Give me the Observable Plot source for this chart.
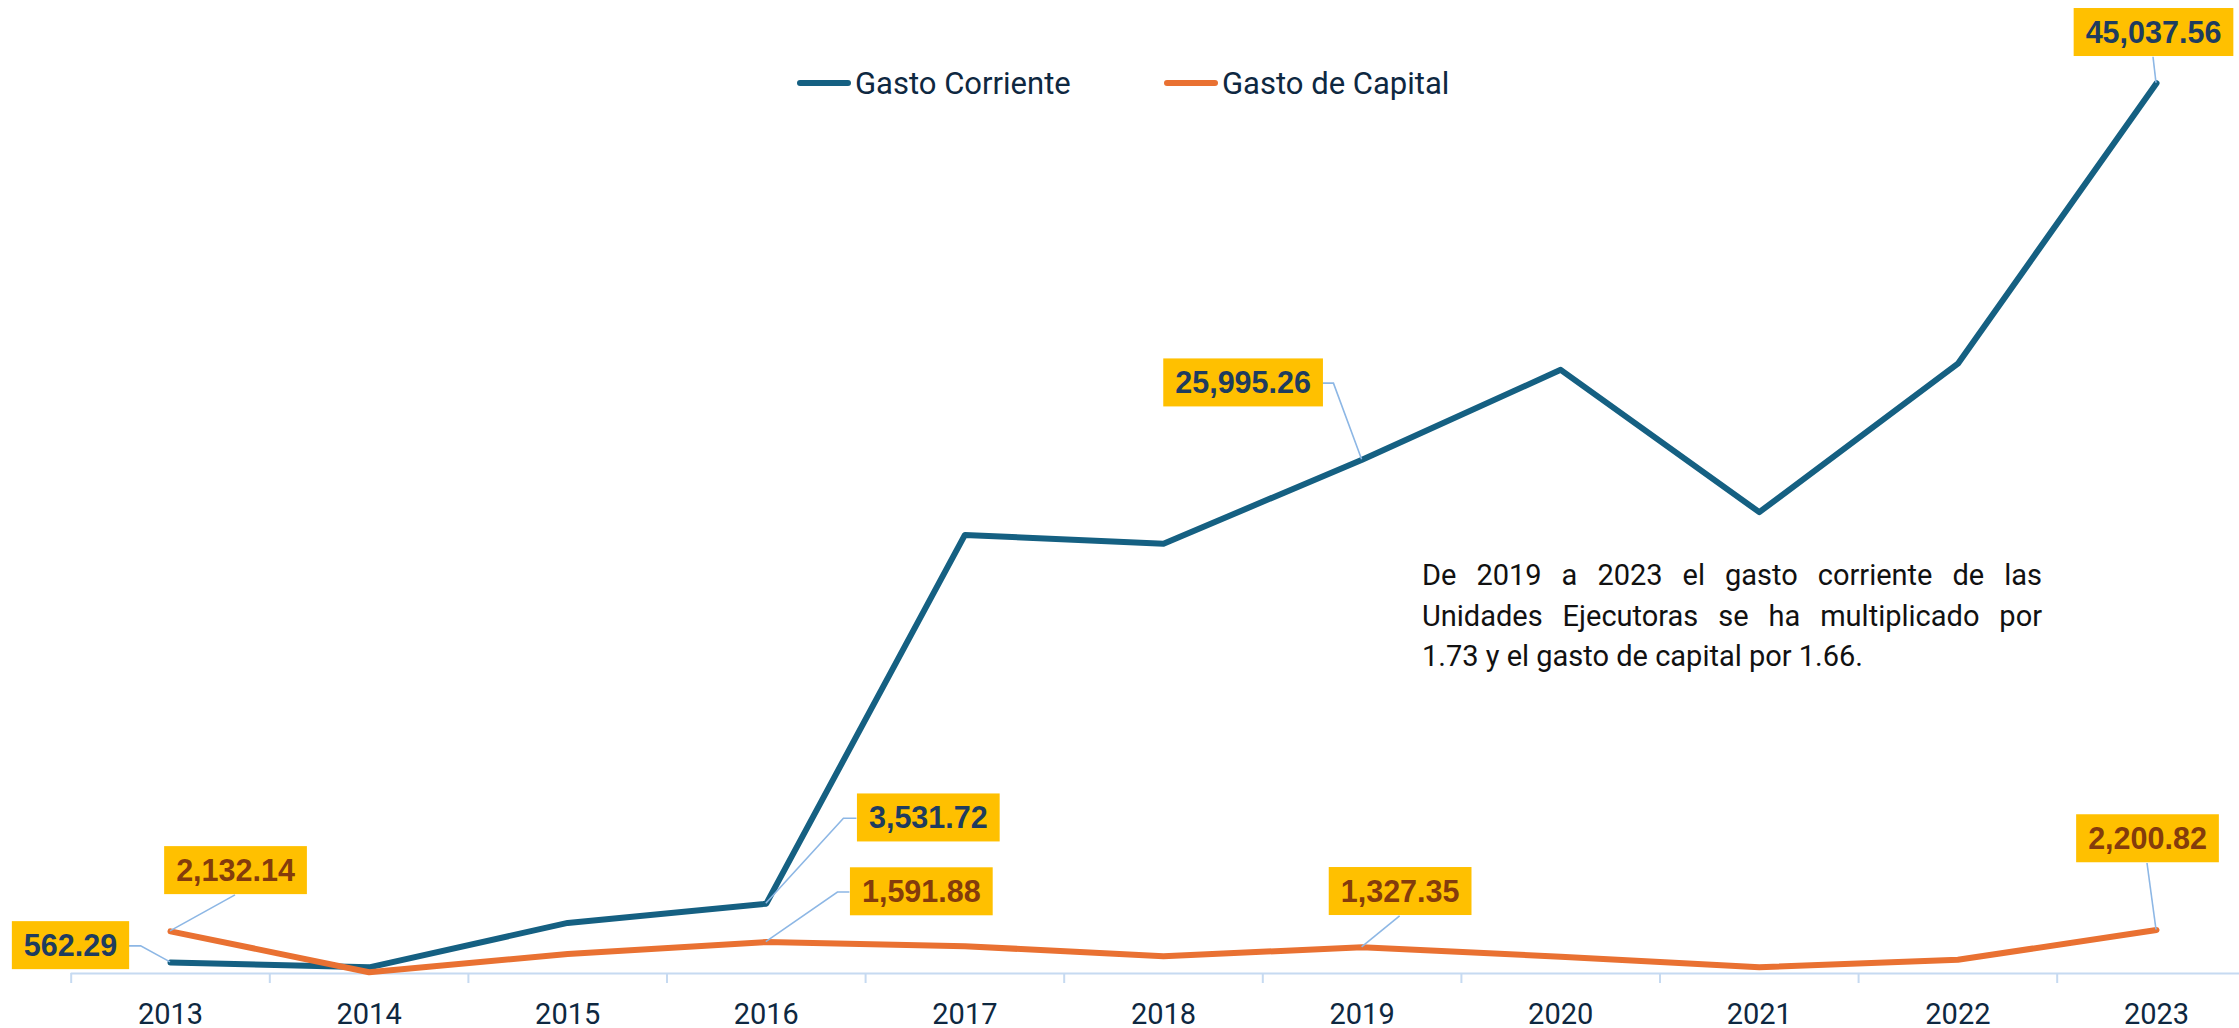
<!DOCTYPE html>
<html>
<head>
<meta charset="utf-8">
<script src="https://cdn.jsdelivr.net/npm/d3@7"></script>
<script src="https://cdn.jsdelivr.net/npm/@observablehq/plot@0.6"></script>
<style>
  html, body { margin: 0; padding: 0; background: #ffffff; overflow: hidden; }
  #wrap { position: relative; width: 2239px; height: 1028px; }
  #chart { position: absolute; left: 0; top: 0; }
  #legend { position: absolute; left: 797px; top: 64px; height: 38px; display: flex; align-items: center;
            font-family: Roboto, "Noto Sans", sans-serif; font-size: 31px; color: #0E2841; }
  #legend .item { display: flex; align-items: center; }
  #legend .item:first-child { width: 367px; }
  #legend .swatch { display: inline-block; width: 54px; height: 6px; border-radius: 3px; margin-right: 4px; }
  #note { position: absolute; left: 1422px; top: 555px; width: 620px;
          font-family: Roboto, "Noto Sans", sans-serif; font-size: 29px; line-height: 40.5px; color: #111111; }
  #note .j { text-align: justify; text-align-last: justify; }
  #note .l { text-align: left; }
</style>
</head>
<body>
<div id="wrap">
  <div id="chart"></div>
  <div id="legend"></div>
  <div id="note"></div>
</div>
<script>
// ---- Data ----
const years = [2013, 2014, 2015, 2016, 2017, 2018, 2019, 2020, 2021, 2022, 2023];
const gastoCorriente = [562.29, 310, 2560, 3531.72, 22190, 21740, 25995.26, 30540, 23340, 30850, 45037.56];
const gastoCapital   = [2132.14, 66, 990, 1591.88, 1381, 875, 1327.35, 850, 319, 693, 2200.82];
const seriesNames = ["Gasto Corriente", "Gasto de Capital"];
const labeledYears = [2013, 2016, 2019, 2023];
const noteLines = [
  "De 2019  a 2023 el gasto corriente de las",
  "Unidades Ejecutoras se ha  multiplicado por",
  "1.73 y el gasto de capital por  1.66."
];

// ---- Styles / layout ----
const colors = {"Gasto Corriente": "#156082", "Gasto de Capital": "#E97132"};
const labelText = {"Gasto Corriente": "#1E3C5F", "Gasto de Capital": "#843C0C"};
const boxFill = "#FFC000";
const leaderColor = "#8DB7E5";
const axisColor = "#C6DAF1";
// label box placement relative to its point (pixels), and leader style
const placement = {
  "Gasto Corriente|2013":  {dx: -100, dy: -16,   side: "right",  stub: 12},
  "Gasto de Capital|2013": {dx: 65,   dy: -60,   side: "bottom"},
  "Gasto Corriente|2016":  {dx: 162,  dy: -85,   side: "left",   stub: 13},
  "Gasto de Capital|2016": {dx: 155,  dy: -49.5, side: "left",   stub: 12},
  "Gasto Corriente|2019":  {dx: -119, dy: -76,   side: "right",  stub: 11},
  "Gasto de Capital|2019": {dx: 38,   dy: -55,   side: "bottom"},
  "Gasto Corriente|2023":  {dx: -3,   dy: -50,   side: "bottom"},
  "Gasto de Capital|2023": {dx: -9,   dy: -90.5, side: "bottom"}
};

const seriesValues = {"Gasto Corriente": gastoCorriente, "Gasto de Capital": gastoCapital};
const rows = s => years.map((year, i) => ({year, value: seriesValues[s][i], series: s}));
const fmt = d3.format(",.2f");
const labels = [];
for (const s of seriesNames) for (const y of labeledYears) {
  const i = years.indexOf(y);
  labels.push({series: s, year: y, value: seriesValues[s][i], key: s + "|" + y});
}
labels.sort((a, b) => a.year - b.year || seriesNames.indexOf(a.series) - seriesNames.indexOf(b.series));
const boundaries = years.map(y => y - 0.5).concat([years[years.length - 1] + 0.5]);

const step = 198.6, left = 70.7;
const plot = Plot.plot({
  width: 2239,
  height: 1028,
  marginLeft: left,
  marginRight: 0,
  marginTop: 83.5,
  marginBottom: 55,
  style: {fontFamily: "Roboto, sans-serif", color: "#0E2841", background: "transparent", overflow: "visible"},
  x: {type: "linear", domain: [years[0] - 0.5, years[years.length - 1] + 0.5], range: [left, left + years.length * step], label: null},
  y: {domain: [0, 45000], axis: null, label: null},
  marks: [
    Plot.ruleY([0], {stroke: axisColor, strokeWidth: 2}),
    Plot.axisX(boundaries, {tickSize: 10, tickFormat: () => "", stroke: axisColor, strokeWidth: 2, label: null}),
    Plot.axisX(years, {tickSize: 0, tickPadding: 30, fontSize: 29, tickFormat: "d", fill: "#0E2841", label: null}),
    ...seriesNames.map(s => Plot.line(rows(s), {x: "year", y: "value", stroke: colors[s], strokeWidth: 6,
      strokeLinejoin: "round", strokeLinecap: "round"})),
    ...labels.map(l => Plot.text([l], {
      x: "year", y: "value", text: d => fmt(d.value),
      dx: placement[l.key].dx, dy: placement[l.key].dy,
      fontSize: 30.5, fontWeight: "bold", fontFamily: "'Liberation Sans', Arial, sans-serif",
      fill: labelText[l.series], textAnchor: "middle", lineAnchor: "middle"
    }))
  ]
});
document.getElementById("chart").append(plot);

// ---- label boxes & leader lines ----
const xs = plot.scale("x"), ys = plot.scale("y");
const svg = d3.select(plot);
const groups = svg.selectAll('g[aria-label="text"]').nodes();
const leaderG = svg.insert("g", () => groups[0]).attr("fill", "none").attr("stroke", leaderColor).attr("stroke-width", 1.6);
labels.forEach((l, i) => {
  const g = d3.select(groups[i]);
  const t = g.select("text").node();
  const bb = t.getBBox(); // in the text element's own user space
  const w = bb.width + 24, h = 48;
  const lx = bb.x + bb.width / 2, ly = bb.y + bb.height / 2;
  const r = g.insert("rect", ":first-child")
    .attr("x", lx - w / 2).attr("y", ly - h / 2).attr("width", w).attr("height", h).attr("fill", boxFill);
  const tr = t.getAttribute("transform");
  if (tr) r.attr("transform", tr);
  const p = placement[l.key];
  const px = xs.apply(l.year), py = ys.apply(l.value);
  const cx = px + p.dx, cy = py + p.dy;
  let pts;
  if (p.side === "right") pts = [[cx + w / 2, cy], [cx + w / 2 + p.stub, cy], [px, py]];
  else if (p.side === "left") pts = [[cx - w / 2, cy], [cx - w / 2 - p.stub, cy], [px, py]];
  else pts = [[cx, cy + h / 2], [px, py]];
  leaderG.append("path").attr("d", d3.line()(pts));
});

// ---- legend ----
const legend = d3.select("#legend");
seriesNames.forEach(s => {
  const it = legend.append("div").attr("class", "item");
  it.append("span").attr("class", "swatch").style("background", colors[s]);
  it.append("span").text(s);
});

// ---- note ----
const note = d3.select("#note");
noteLines.forEach((line, i) => {
  note.append("div").attr("class", i < noteLines.length - 1 ? "j" : "l").text(line);
});
</script>
</body>
</html>
